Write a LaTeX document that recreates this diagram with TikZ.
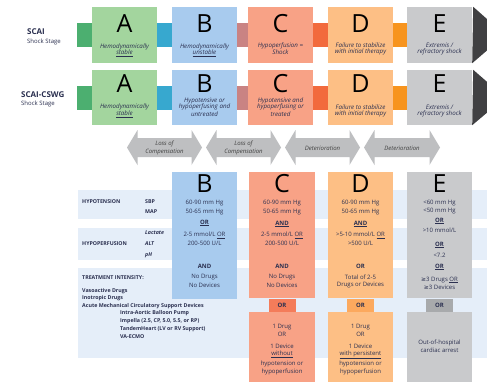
\documentclass[tikz,border=0pt]{standalone}
\usepackage{fontspec}
\setmainfont{Open Sans}
\newfontfamily\dejavu{DejaVu Sans}
\definecolor{cGd}{HTML}{4CAF70}
\definecolor{cA}{HTML}{A3D59E}
\definecolor{cB}{HTML}{A8CBEE}
\definecolor{cAB}{HTML}{37A8CF}
\definecolor{cBC}{HTML}{C98383}
\definecolor{cC}{HTML}{F8A286}
\definecolor{cCD}{HTML}{F26A3D}
\definecolor{cD}{HTML}{FDBF85}
\definecolor{cDE}{HTML}{F7941E}
\definecolor{cE}{HTML}{C9CACC}
\definecolor{cArr}{HTML}{404042}
\definecolor{cORC}{HTML}{F47C5A}
\definecolor{cORD}{HTML}{FCA95E}
\definecolor{cORE}{HTML}{A8AAAC}
\definecolor{cDbl}{HTML}{BEBFC1}
\definecolor{cBand}{HTML}{E5EEF9}
\definecolor{cTxt}{HTML}{2B3050}
\newcommand\geqs{{\dejavu ≥}}
\tikzset{
  stagebox/.style={rectangle, draw=none, inner sep=0pt, minimum width=65pt},
  conn/.style={rectangle, draw=none, inner sep=0pt, minimum width=15.5pt, minimum height=24pt},
  bigletter/.style={inner sep=0pt, font=\fontsize{25}{25}\selectfont, text=black},
  itxt/.style={inner sep=0pt, font=\fontsize{6.2}{6.7}\selectfont\itshape, text=cTxt},
  ctxt/.style={inner sep=0pt, font=\fontsize{6}{7}\selectfont, text=cTxt},
  btxt/.style={inner sep=0pt, font=\fontsize{6}{7}\selectfont\bfseries, text=cTxt},
  ltxt/.style={inner sep=0pt, anchor=west, font=\fontsize{5.3}{6}\selectfont\bfseries, text=cTxt},
  litxt/.style={inner sep=0pt, anchor=west, font=\fontsize{5.3}{6}\selectfont\bfseries\itshape, text=cTxt},
  atxt/.style={inner sep=0pt, font=\fontsize{6}{7}\selectfont\itshape, text=black!75},
  orbox/.style={rectangle, draw=none, inner sep=0pt, minimum width=27pt, minimum height=13pt, font=\fontsize{6}{7}\selectfont\bfseries, text=cTxt},
}
\newcommand\dblarr[2]{%
  \fill[cDbl] (#1,147.5) -- (#1+10.5,130) -- (#1+10.5,138) -- (#2-10.5,138) -- (#2-10.5,130) -- (#2,147.5) -- (#2-10.5,165) -- (#2-10.5,157) -- (#1+10.5,157) -- (#1+10.5,165) -- cycle;}
\begin{document}
\begin{tikzpicture}[x=1pt,y=-1pt]
\useasboundingbox (0,0) rectangle (487,383);
\fill[white] (0,0) rectangle (487,383);

% ---------- left labels ----------
\node[inner sep=0pt, anchor=west, font=\fontsize{8}{9}\selectfont\bfseries, text=cTxt] (l1) at (27,31.5) {SCAI};
\node[inner sep=0pt, anchor=west, font=\fontsize{6}{7}\selectfont, text=cTxt] (l1b) at (27,41.5) {Shock Stage};
\node[inner sep=0pt, anchor=west, font=\fontsize{8}{9}\selectfont\bfseries, text=cTxt] (l2) at (21,94.5) {SCAI-CSWG};
\node[inner sep=0pt, anchor=west, font=\fontsize{6}{7}\selectfont, text=cTxt] (l2b) at (21,104) {Shock Stage};

% ---------- row 1 ----------
\node[conn, fill=cGd] (g1) at (84.5,35) {};
\node[conn, fill=cAB] (ab1) at (164.5,35) {};
\node[conn, fill=cBC] (bc1) at (242.5,35) {};
\node[conn, fill=cCD] (cd1) at (320.5,35) {};
\node[conn, fill=cDE] (de1) at (400,35) {};
\node[stagebox, fill=cA, minimum height=56pt] (a1) at (124.5,35) {};
\node[stagebox, fill=cB, minimum height=56pt] (b1) at (204.5,35) {};
\node[stagebox, fill=cC, minimum height=56pt] (c1) at (280.5,35) {};
\node[stagebox, fill=cD, minimum height=56pt] (d1) at (360.5,35) {};
\node[stagebox, fill=cE, minimum height=56pt] (e1) at (439.5,35) {};
\fill[cArr] (e1.north east) ++(1,0) coordinate (ar1a) -- (505,35) -- (e1.south east) ++(1,0) -- cycle;

\node[bigletter] (A1) at (124.5,24) {A};
\node[bigletter] (B1) at (204.5,24) {B};
\node[bigletter] (C1) at (280.5,24) {C};
\node[bigletter] (D1) at (360.5,24) {D};
\node[bigletter] (E1) at (439.5,24) {E};

\node[itxt] (ta1) at (124.5,46.5) {Hemodynamically};
\node[itxt] (ta1b) at (124.5,53.3) {\underline{stable}};
\node[itxt] (tb1) at (204.5,46.5) {Hemodynamically};
\node[itxt] (tb1b) at (204.5,53.3) {\underline{unstable}};
\node[itxt] (tc1) at (280.5,45.5) {Hypoperfusion =};
\node[itxt] (tc1b) at (280.5,52.3) {Shock};
\node[itxt] (td1) at (360.5,45.5) {Failure to stabilize};
\node[itxt] (td1b) at (360.5,52.3) {with initial therapy};
\node[itxt] (te1) at (439.5,45.5) {Extremis /};
\node[itxt] (te1b) at (439.5,52.3) {refractory shock};

% ---------- row 2 ----------
\node[conn, fill=cGd] (g2) at (84.5,98) {};
\node[conn, fill=cAB] (ab2) at (164.5,98) {};
\node[conn, fill=cBC] (bc2) at (242.5,98) {};
\node[conn, fill=cCD] (cd2) at (320.5,98) {};
\node[conn, fill=cDE] (de2) at (400,98) {};
\node[stagebox, fill=cA, minimum height=55pt] (a2) at (124.5,97.5) {};
\node[stagebox, fill=cB, minimum height=55pt] (b2) at (204.5,97.5) {};
\node[stagebox, fill=cC, minimum height=55pt] (c2) at (280.5,97.5) {};
\node[stagebox, fill=cD, minimum height=55pt] (d2) at (360.5,97.5) {};
\node[stagebox, fill=cE, minimum height=55pt] (e2) at (439.5,97.5) {};
\fill[cArr] (e2.north east) ++(1,0) -- (505,97.5) -- (e2.south east) ++(1,0) -- cycle;

\node[bigletter] (A2) at (124.5,84) {A};
\node[bigletter] (B2) at (204.5,84) {B};
\node[bigletter] (C2) at (280.5,84) {C};
\node[bigletter] (D2) at (360.5,84) {D};
\node[bigletter] (E2) at (439.5,84) {E};

\node[itxt] (ta2) at (124.5,107.3) {Hemodynamically};
\node[itxt] (ta2b) at (124.5,114) {\underline{stable}};
\node[itxt] (tb2) at (204.5,100.7) {Hypotensive or};
\node[itxt] (tb2b) at (204.5,107.3) {hypoperfusing and};
\node[itxt] (tb2c) at (204.5,114) {untreated};
\node[itxt] (tc2) at (280.5,100.7) {Hypotensive and};
\node[itxt] (tc2b) at (280.5,107.3) {hypoperfusing or};
\node[itxt] (tc2c) at (280.5,114) {treated};
\node[itxt] (td2) at (360.5,107.3) {Failure to stabilize};
\node[itxt] (td2b) at (360.5,114) {with initial therapy};
\node[itxt] (te2) at (439.5,107.3) {Extremis /};
\node[itxt] (te2b) at (439.5,114) {refractory shock};

% ---------- transition arrows ----------
\dblarr{127}{202}
\dblarr{206}{281}
\dblarr{285}{360}
\dblarr{364}{440}
\node[atxt] (t1) at (164.5,144) {Loss of};
\node[atxt] (t1b) at (164.5,152) {Compensation};
\node[atxt] (t2) at (243.5,144) {Loss of};
\node[atxt] (t2b) at (243.5,152) {Compensation};
\node[atxt] (t3) at (322.5,148) {Deterioration};
\node[atxt] (t4) at (402,148) {Deterioration};

% ---------- table bands ----------
\fill[cBand] (78,190) rectangle (487,219);
\fill[cBand] (78,228) rectangle (487,260);
\fill[cBand] (78,268) rectangle (487,358);

\node[ltxt] (h1) at (82,202) {HYPOTENSION};
\node[ltxt] (h1a) at (145,202) {SBP};
\node[ltxt] (h1b) at (145,212) {MAP};
\node[ltxt] (h2) at (82,244) {HYPOPERFUSION};
\node[litxt] (h2a) at (145,233) {Lactate};
\node[litxt] (h2b) at (145,244) {ALT};
\node[litxt] (h2c) at (145,255) {pH};
\node[ltxt] (h3) at (82,278) {TREATMENT INTENSITY:};
\node[ltxt] (h3a) at (82,291) {Vasoactive Drugs};
\node[ltxt] (h3b) at (82,298.5) {Inotropic Drugs};
\node[ltxt] (h3c) at (82,306) {Acute Mechanical Circulatory Support Devices};
\node[ltxt] (h3d) at (120,313.5) {Intra-Aortic Balloon Pump};
\node[ltxt] (h3e) at (120,321.5) {Impella (2.5, CP, 5.0, 5.5, or RP)};
\node[ltxt] (h3f) at (120,329) {TandemHeart (LV or RV Support)};
\node[ltxt] (h3g) at (120,337) {VA-ECMO};

% ---------- lower columns ----------
\fill[cB] (172,172) rectangle (237,299);
\fill[cC] (249,172) rectangle (315,298);
\fill[cC] (249,312) rectangle (315,382);
\fill[cD] (328,172) rectangle (393,298);
\fill[cD] (328,312) rectangle (393,382);
\fill[cE] (407,172) rectangle (472,298);
\fill[cE] (407,312) rectangle (472,382);
\node[orbox, fill=cORC] (orc) at (282,305.5) {OR};
\node[orbox, fill=cORD] (ord) at (360.5,305.5) {OR};
\node[orbox, fill=cORE] (ore) at (439.5,305.5) {OR};

% B
\node[bigletter] (B3) at (204.5,184) {B};
\node[ctxt] (b3a) at (204.5,203) {60-90 mm Hg};
\node[ctxt] (b3b) at (204.5,212) {50-65 mm Hg};
\node[btxt] (b3c) at (204.5,223) {\underline{OR}};
\node[ctxt] (b3d) at (204.5,235) {2-5 mmol/L \underline{OR}};
\node[ctxt] (b3e) at (204.5,243) {200-500 U/L};
\node[btxt] (b3f) at (204.5,266) {AND};
\node[ctxt] (b3g) at (204.5,277) {No Drugs};
\node[ctxt] (b3h) at (204.5,285) {No Devices};

% C
\node[bigletter] (C3) at (282,184) {C};
\node[ctxt] (c3a) at (282,203) {60-90 mm Hg};
\node[ctxt] (c3b) at (282,212) {50-65 mm Hg};
\node[btxt] (c3c) at (282,224) {\underline{AND}};
\node[ctxt] (c3d) at (282,235) {2-5 mmol/L \underline{OR}};
\node[ctxt] (c3e) at (282,243) {200-500 U/L};
\node[btxt] (c3f) at (282,266) {AND};
\node[ctxt] (c3g) at (282,277) {No Drugs};
\node[ctxt] (c3h) at (282,285) {No Devices};
\node[ctxt] (c4a) at (282,327) {1 Drug};
\node[ctxt] (c4b) at (282,334) {OR};
\node[ctxt] (c4c) at (282,346.5) {1 Device};
\node[ctxt] (c4d) at (282,354.5) {\underline{without}};
\node[ctxt] (c4e) at (282,364) {hypotension or};
\node[ctxt] (c4f) at (282,371.5) {hypoperfusion};

% D
\node[bigletter] (D3) at (360.5,184) {D};
\node[ctxt] (d3a) at (360.5,203) {60-90 mm Hg};
\node[ctxt] (d3b) at (360.5,212) {50-65 mm Hg};
\node[btxt] (d3c) at (360.5,224) {\underline{AND}};
\node[ctxt] (d3d) at (360.5,235) {>5-10 mmol/L \underline{OR}};
\node[ctxt] (d3e) at (360.5,243) {>500 U/L};
\node[btxt] (d3f) at (360.5,266) {OR};
\node[ctxt] (d3g) at (360.5,277) {Total of 2-5};
\node[ctxt] (d3h) at (360.5,285) {Drugs or Devices};
\node[ctxt] (d4a) at (360.5,327) {1 Drug};
\node[ctxt] (d4b) at (360.5,334) {OR};
\node[ctxt] (d4c) at (360.5,346.5) {1 Device};
\node[ctxt] (d4d) at (360.5,354.5) {\underline{with persistent}};
\node[ctxt] (d4e) at (360.5,364) {hypotension or};
\node[ctxt] (d4f) at (360.5,371.5) {hypoperfusion};

% E
\node[bigletter] (E3) at (439.5,184) {E};
\node[ctxt] (e3a) at (439.5,203) {<60 mm Hg};
\node[ctxt] (e3b) at (439.5,211.5) {<50 mm Hg};
\node[btxt] (e3c) at (439.5,221) {\underline{OR}};
\node[ctxt] (e3d) at (439.5,230) {>10 mmol/L};
\node[btxt] (e3e) at (439.5,245) {\underline{OR}};
\node[ctxt] (e3f) at (439.5,255) {<7.2};
\node[btxt] (e3g) at (439.5,267) {\underline{OR}};
\node[ctxt] (e3h) at (439.5,280) {\geqs3 Drugs \underline{OR}};
\node[ctxt] (e3i) at (439.5,287.5) {\geqs3 Devices};
\node[ctxt] (e4a) at (439.5,343) {Out-of-hospital};
\node[ctxt] (e4b) at (439.5,350.5) {cardiac arrest};
\end{tikzpicture}
\end{document}
